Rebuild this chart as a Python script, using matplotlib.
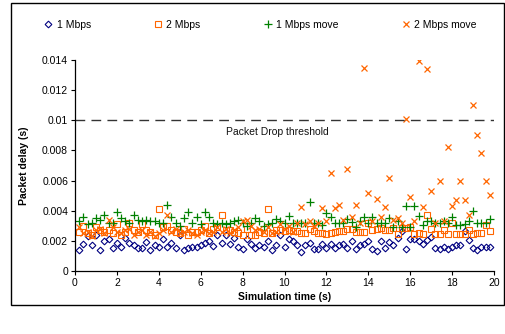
import numpy as np
import matplotlib
matplotlib.use("Agg")
import matplotlib.pyplot as plt
from matplotlib.patches import Rectangle

plt.rcParams['font.family'] = ['Liberation Sans', 'DejaVu Sans']

# Simulation time (s)
time_s = [round(0.2 * i, 1) for i in range(1, 100)]

# Packet delay values in milliseconds (converted to seconds below)
mbps1_ms = [1.4, 1.8, 2.3, 1.7, 2.4, 1.4, 2.0, 2.1, 1.5, 1.85,
            1.6, 2.2, 1.85, 1.7, 1.5, 1.5, 1.95, 1.4, 1.7, 1.6,
            2.15, 1.6, 1.85, 1.5, 2.4, 1.4, 1.5, 1.6, 1.6, 1.75,
            1.85, 2.0, 1.65, 2.4, 1.85, 2.4, 1.8, 2.2, 1.6, 1.45,
            2.1, 1.8, 1.5, 1.75, 1.6, 2.0, 1.4, 1.75, 2.4, 1.6,
            2.1, 2.0, 1.7, 1.26, 1.7, 1.83, 1.43, 1.47, 1.8, 1.5,
            1.8, 1.5, 1.73, 1.77, 1.5, 2.0, 1.43, 1.7, 1.77, 2.0,
            1.43, 1.3, 2.0, 1.5, 1.9, 1.7, 2.2, 2.67, 1.43, 2.15,
            2.1, 2.0, 1.8, 2.06, 2.27, 1.54, 1.47, 1.6, 1.47, 1.56,
            1.7, 1.75, 2.67, 2.06, 1.5, 1.37, 1.58, 1.6, 1.6]

mbps2_ms = [2.6, 3.0, 2.5, 2.4, 2.9, 2.7, 2.6, 2.7, 2.5, 3.1,
            2.4, 2.6, 3.2, 2.7, 2.6, 3.1, 2.7, 2.6, 2.4, 4.1,
            2.9, 3.0, 2.7, 2.6, 2.5, 2.8, 2.4, 2.6, 2.6, 2.7,
            3.0, 2.5, 2.8, 2.9, 3.7, 2.7, 2.7, 2.6, 2.5, 2.4,
            2.8, 2.4, 2.4, 2.6, 2.5, 4.1, 2.5, 2.7, 2.74, 2.63,
            2.74, 2.63, 2.63, 2.5, 2.53, 2.78, 2.63, 2.53, 2.5, 2.48,
            2.53, 2.57, 2.67, 2.67, 2.78, 2.78, 2.57, 2.57, 2.57, 3.16,
            2.74, 2.78, 2.88, 2.74, 2.74, 2.88, 2.46, 2.84, 2.84, 2.95,
            2.48, 2.53, 2.48, 3.73, 2.78, 2.48, 2.48, 2.74, 2.48, 3.16,
            2.48, 2.48, 2.48, 2.74, 2.48, 2.53, 2.53, 3.05, 2.63]

mbps1_move_ms = [3.3, 3.6, 3.1, 3.2, 3.5, 3.4, 3.7, 3.2, 3.2, 3.9,
                 3.5, 3.3, 3.2, 3.7, 3.4, 3.3, 3.4, 3.3, 3.3, 3.2,
                 3.2, 4.4, 3.6, 3.2, 3.0, 3.5, 3.9, 3.2, 3.6, 3.1,
                 3.9, 3.6, 3.2, 3.1, 3.2, 3.1, 3.2, 3.3, 3.4, 3.2,
                 3.0, 3.2, 3.5, 3.3, 3.0, 3.1, 3.2, 3.47, 3.3, 3.2,
                 3.68, 3.2, 3.16, 3.2, 3.2, 4.57, 3.2, 3.16, 3.05, 3.83,
                 3.58, 3.2, 3.2, 3.2, 3.47, 3.26, 2.9, 3.3, 3.58, 3.2,
                 3.58, 3.2, 3.2, 3.2, 3.54, 2.95, 3.33, 2.95, 4.3, 2.9,
                 4.3, 3.68, 3.05, 3.3, 3.33, 3.16, 3.16, 3.33, 3.16, 3.58,
                 3.05, 3.05, 3.1, 3.3, 4.0, 3.16, 3.16, 3.2, 3.47]

mbps2_move_ms = [2.9, 2.5, 2.6, 2.3, 2.7, 2.8, 2.5, 3.4, 2.9, 2.6,
                 2.5, 2.7, 2.8, 2.4, 2.6, 2.7, 2.4, 2.6, 2.3, 2.5,
                 2.7, 3.7, 2.6, 2.8, 2.5, 2.6, 2.7, 2.5, 2.4, 2.6,
                 2.7, 2.5, 2.6, 2.9, 2.6, 2.8, 2.5, 2.7, 2.9, 3.3,
                 3.4, 3.0, 2.7, 2.8, 2.6, 2.9, 2.5, 2.6, 3.1, 2.8,
                 3.0, 2.6, 3.2, 4.25, 3.1, 3.3, 3.0, 3.2, 4.15, 3.3,
                 6.5, 4.2, 4.4, 3.4, 6.75, 3.6, 4.4, 3.2, 13.5, 5.2,
                 3.3, 4.8, 3.6, 4.25, 6.2, 3.4, 3.5, 3.2, 10.1, 4.9,
                 3.3, 13.95, 4.25, 13.4, 5.3, 3.2, 6.0, 3.3, 8.25, 4.3,
                 4.7, 6.0, 4.7, 3.7, 11.0, 9.0, 7.8, 6.0, 5.05]

threshold = 0.01
series_names = ["1 Mbps", "2 Mbps", "1 Mbps move", "2 Mbps move"]
ytick_labels = ["0", "0.002", "0.004", "0.006", "0.008", "0.01", "0.012", "0.014"]

W, H = 505, 334
fig = plt.figure(figsize=(W / 100, H / 100), dpi=100)
ax = fig.add_axes([75 / W, 1 - 271 / H, (494 - 75) / W, (271 - 60) / H])

t = np.array(time_s)
to_s = lambda v: np.array(v) / 1000.0

navy = "#000080"
orange = "#FF6600"
green = "#008000"

h1, = ax.plot(t, to_s(mbps1_ms), linestyle="none", marker="D", markersize=3.4,
              markerfacecolor="none", markeredgecolor=navy, markeredgewidth=0.8)
h2, = ax.plot(t, to_s(mbps2_ms), linestyle="none", marker="s", markersize=4.3,
              markerfacecolor="none", markeredgecolor=orange, markeredgewidth=0.8)
h3, = ax.plot(t, to_s(mbps1_move_ms), linestyle="none", marker="+", markersize=5.2,
              markeredgecolor=green, markeredgewidth=0.9)
h4, = ax.plot(t, to_s(mbps2_move_ms), linestyle="none", marker="x", markersize=4.5,
              markeredgecolor=orange, markeredgewidth=0.9)

ax.axhline(threshold, color="#333333", linewidth=1.0, dashes=(7, 4.5))
ax.text(7.2, 0.00925, "Packet Drop threshold", fontsize=7.5, va="center", ha="left",
        color="#111111")

ax.set_xlim(0, 20)
ax.set_ylim(0, 0.014)
ax.set_xticks(np.arange(0, 21, 2))
ax.set_yticks(np.arange(0, 0.0141, 0.002))
ax.set_yticklabels(ytick_labels)
ax.tick_params(axis="both", direction="out", length=3, width=0.8, labelsize=7.5, pad=2)
for s in ["top", "right"]:
    ax.spines[s].set_visible(False)
for s in ["left", "bottom"]:
    ax.spines[s].set_linewidth(0.9)
ax.set_xlabel("Simulation time (s)", fontsize=7.5, fontweight="bold", labelpad=3)
ax.set_ylabel("Packet delay (s)", fontsize=7.5, fontweight="bold", labelpad=9)

fig.legend([h1, h2, h3, h4], series_names, loc="center", ncol=4,
           bbox_to_anchor=(0.5 + 8 / W, 1 - 25 / H), frameon=False, fontsize=7.5,
           handlelength=0.8, handletextpad=0.4, columnspacing=6.05, borderpad=0)

fig.patches.append(Rectangle((11 / W, 1 - 305 / H), (504 - 11) / W, (305 - 3) / H,
                             transform=fig.transFigure, fill=False,
                             edgecolor="black", linewidth=1.0))

fig.savefig("out.png", dpi=100)
